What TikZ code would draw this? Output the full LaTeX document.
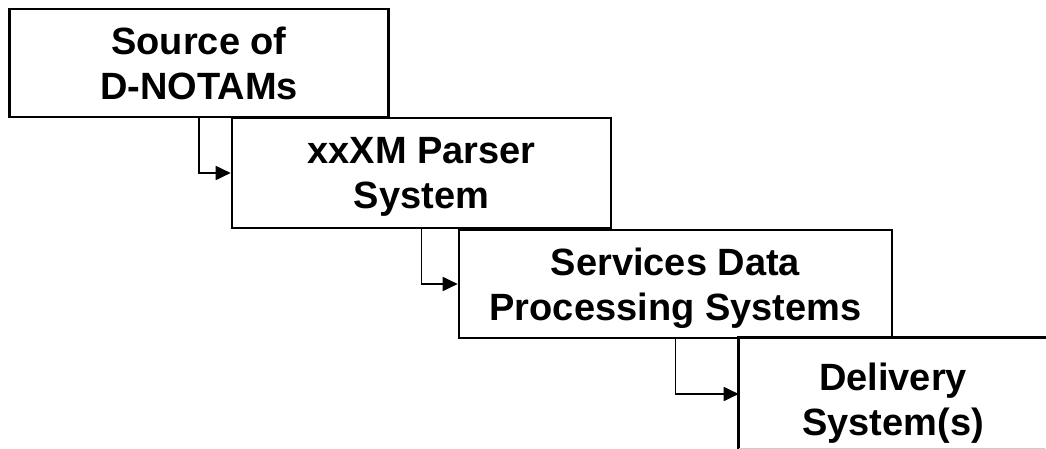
\documentclass[tikz,border=0pt]{standalone}
\usepackage{fontspec}
\setmainfont{Liberation Sans}
\usetikzlibrary{arrows.meta}

\begin{document}
\begin{tikzpicture}[x=1pt,y=-1pt,
    stage/.style={line width=2.6pt, align=center, inner sep=0pt,
      font=\bfseries\fontsize{38}{45}\selectfont, text depth=0pt},
    feed/.style={line width=1.8pt, -{Triangle[length=15pt,width=14pt]}}]
    \useasboundingbox (0,0) rectangle (1046,449);
    \node[stage, draw, minimum width=379, minimum height=108] (src) at (199,63) {Source of\\D-NOTAMs};
    \node[stage, draw, minimum width=379, minimum height=110] (parser) at (421.5,173) {xxXM Parser\\System};
    \node[stage, draw, minimum width=433, minimum height=108] (sdp) at (675.5,284) {Services Data\\Processing Systems};
    % last stage runs off the right and bottom edges
    \node[stage, minimum width=306, minimum height=110, text height=82] (deliv) at (893,394) {Delivery\\System(s)};
    \draw[stage] (deliv.north east) -- (deliv.north west) -- (deliv.south west);
    \draw[line width=1pt, gray!40] (deliv.south west) ++(0,-1.5) -- ++(306,0);
    % each stage feeds the next one down
    \draw[feed] (src.south) |- (parser.west);
    \draw[feed] (parser.south) |- (sdp.west);
    \draw[feed] (sdp.south) |- (deliv.west);
\end{tikzpicture}
\end{document}
